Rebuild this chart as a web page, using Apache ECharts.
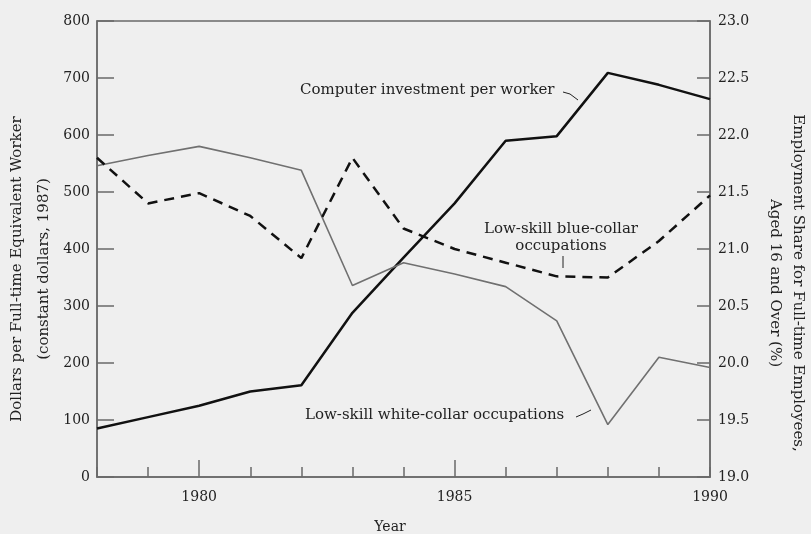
<!DOCTYPE html>
<html>
<head>
<meta charset="utf-8">
<script src="https://cdn.jsdelivr.net/npm/echarts@6/dist/echarts.min.js"></script>
<style>
html,body{margin:0;padding:0;background:#efefef;}
#c{width:811px;height:534px;}
</style>
</head>
<body>
<div id="c"></div>
<script>
const years = [1978, 1979, 1980, 1981, 1982, 1983, 1984, 1985, 1986, 1987, 1988, 1989, 1990];
const computerInvestment = [85, 105, 125, 150, 161, 288, 385, 480, 590, 598, 709, 688, 663];
const whiteCollarShare = [21.73, 21.82, 21.9, 21.8, 21.69, 20.68, 20.88, 20.78, 20.67, 20.37, 19.46, 20.05, 19.96];
const blueCollarShare = [21.8, 21.4, 21.49, 21.29, 20.92, 21.8, 21.18, 21.0, 20.88, 20.76, 20.75, 21.07, 21.47];
const xLabelYears = [1980, 1985, 1990];
const xMajorTickYears = [1980, 1985];

const FONT = 'DejaVu Serif';
const TXT = '#222';
const AX = '#6a6a6a';

const pairs = arr => years.map((y, i) => [y, arr[i]]);

const chart = echarts.init(document.getElementById('c'), null, {renderer: 'canvas'});
chart.setOption({
  backgroundColor: '#efefef',
  animation: false,
  grid: {left: 97, right: 101, top: 21, bottom: 57, show: true, borderColor: AX, borderWidth: 1.5, backgroundColor: 'transparent'},
  xAxis: [{
    type: 'value', min: 1978, max: 1990, interval: 1,
    axisLine: {show: true, lineStyle: {color: AX, width: 1.5}},
    axisTick: {show: true, inside: true, length: 10, lineStyle: {color: AX, width: 1.5}},
    axisLabel: {customValues: xLabelYears, formatter: v => String(v), color: TXT, fontFamily: FONT, fontSize: 14, margin: 13},
    splitLine: {show: false}
  }, {
    type: 'value', min: 1978, max: 1990, interval: 1, position: 'bottom',
    axisLine: {show: false},
    axisTick: {show: true, inside: true, length: 17, customValues: xMajorTickYears, lineStyle: {color: AX, width: 1.5}},
    axisLabel: {show: false},
    splitLine: {show: false}
  }],
  yAxis: [{
    type: 'value', min: 0, max: 800, interval: 100, position: 'left',
    axisLine: {show: true, lineStyle: {color: AX, width: 1.5}},
    axisTick: {show: true, inside: true, length: 17, lineStyle: {color: AX, width: 1.5}},
    axisLabel: {color: TXT, fontFamily: FONT, fontSize: 14, margin: 7},
    splitLine: {show: false}
  }, {
    type: 'value', min: 19, max: 23, interval: 0.5, position: 'right',
    axisLine: {show: true, lineStyle: {color: AX, width: 1.5}},
    axisTick: {show: true, inside: true, length: 13, lineStyle: {color: AX, width: 1.5}},
    axisLabel: {color: TXT, fontFamily: FONT, fontSize: 14, margin: 8, formatter: v => v.toFixed(1)},
    splitLine: {show: false}
  }],
  series: [{
    name: 'Computer investment per worker', type: 'line', xAxisIndex: 0, yAxisIndex: 0,
    data: pairs(computerInvestment), symbol: 'none',
    lineStyle: {color: '#111', width: 2.5}
  }, {
    name: 'Low-skill white-collar occupations', type: 'line', xAxisIndex: 0, yAxisIndex: 1,
    data: pairs(whiteCollarShare), symbol: 'none',
    lineStyle: {color: '#707070', width: 1.6}
  }, {
    name: 'Low-skill blue-collar occupations', type: 'line', xAxisIndex: 0, yAxisIndex: 1,
    data: pairs(blueCollarShare), symbol: 'none',
    lineStyle: {color: '#111', width: 2.5, type: [10, 7]}
  }],
  graphic: [
    {type: 'text', x: 17, y: 269, rotation: Math.PI / 2, style: {text: 'Dollars per Full-time Equivalent Worker', font: '15px "' + FONT + '"', fill: TXT, align: 'center', verticalAlign: 'middle'}},
    {type: 'text', x: 44, y: 269, rotation: Math.PI / 2, style: {text: '(constant dollars, 1987)', font: '15px "' + FONT + '"', fill: TXT, align: 'center', verticalAlign: 'middle'}},
    {type: 'text', x: 798, y: 283, rotation: -Math.PI / 2, style: {text: 'Employment Share for Full-time Employees,', font: '15px "' + FONT + '"', fill: TXT, align: 'center', verticalAlign: 'middle'}},
    {type: 'text', x: 775, y: 283, rotation: -Math.PI / 2, style: {text: 'Aged 16 and Over (%)', font: '15px "' + FONT + '"', fill: TXT, align: 'center', verticalAlign: 'middle'}},
    {type: 'text', x: 390, y: 527, style: {text: 'Year', font: '14px "' + FONT + '"', fill: TXT, align: 'center', verticalAlign: 'middle'}},
    {type: 'text', x: 300, y: 90, style: {text: 'Computer investment per worker', font: '15px "' + FONT + '"', fill: TXT, align: 'left', verticalAlign: 'middle'}},
    {type: 'polyline', shape: {points: [[563, 92], [570, 94], [578, 100]]}, style: {stroke: TXT, lineWidth: 1, fill: null}},
    {type: 'text', x: 561, y: 229, style: {text: 'Low-skill blue-collar', font: '15px "' + FONT + '"', fill: TXT, align: 'center', verticalAlign: 'middle'}},
    {type: 'text', x: 561, y: 246, style: {text: 'occupations', font: '15px "' + FONT + '"', fill: TXT, align: 'center', verticalAlign: 'middle'}},
    {type: 'line', shape: {x1: 563, y1: 256, x2: 563, y2: 268}, style: {stroke: TXT, lineWidth: 1}},
    {type: 'text', x: 305, y: 415, style: {text: 'Low-skill white-collar occupations', font: '15px "' + FONT + '"', fill: TXT, align: 'left', verticalAlign: 'middle'}},
    {type: 'polyline', shape: {points: [[576, 417], [583, 414], [591, 410]]}, style: {stroke: TXT, lineWidth: 1, fill: null}}
  ]
});
</script>
</body>
</html>
